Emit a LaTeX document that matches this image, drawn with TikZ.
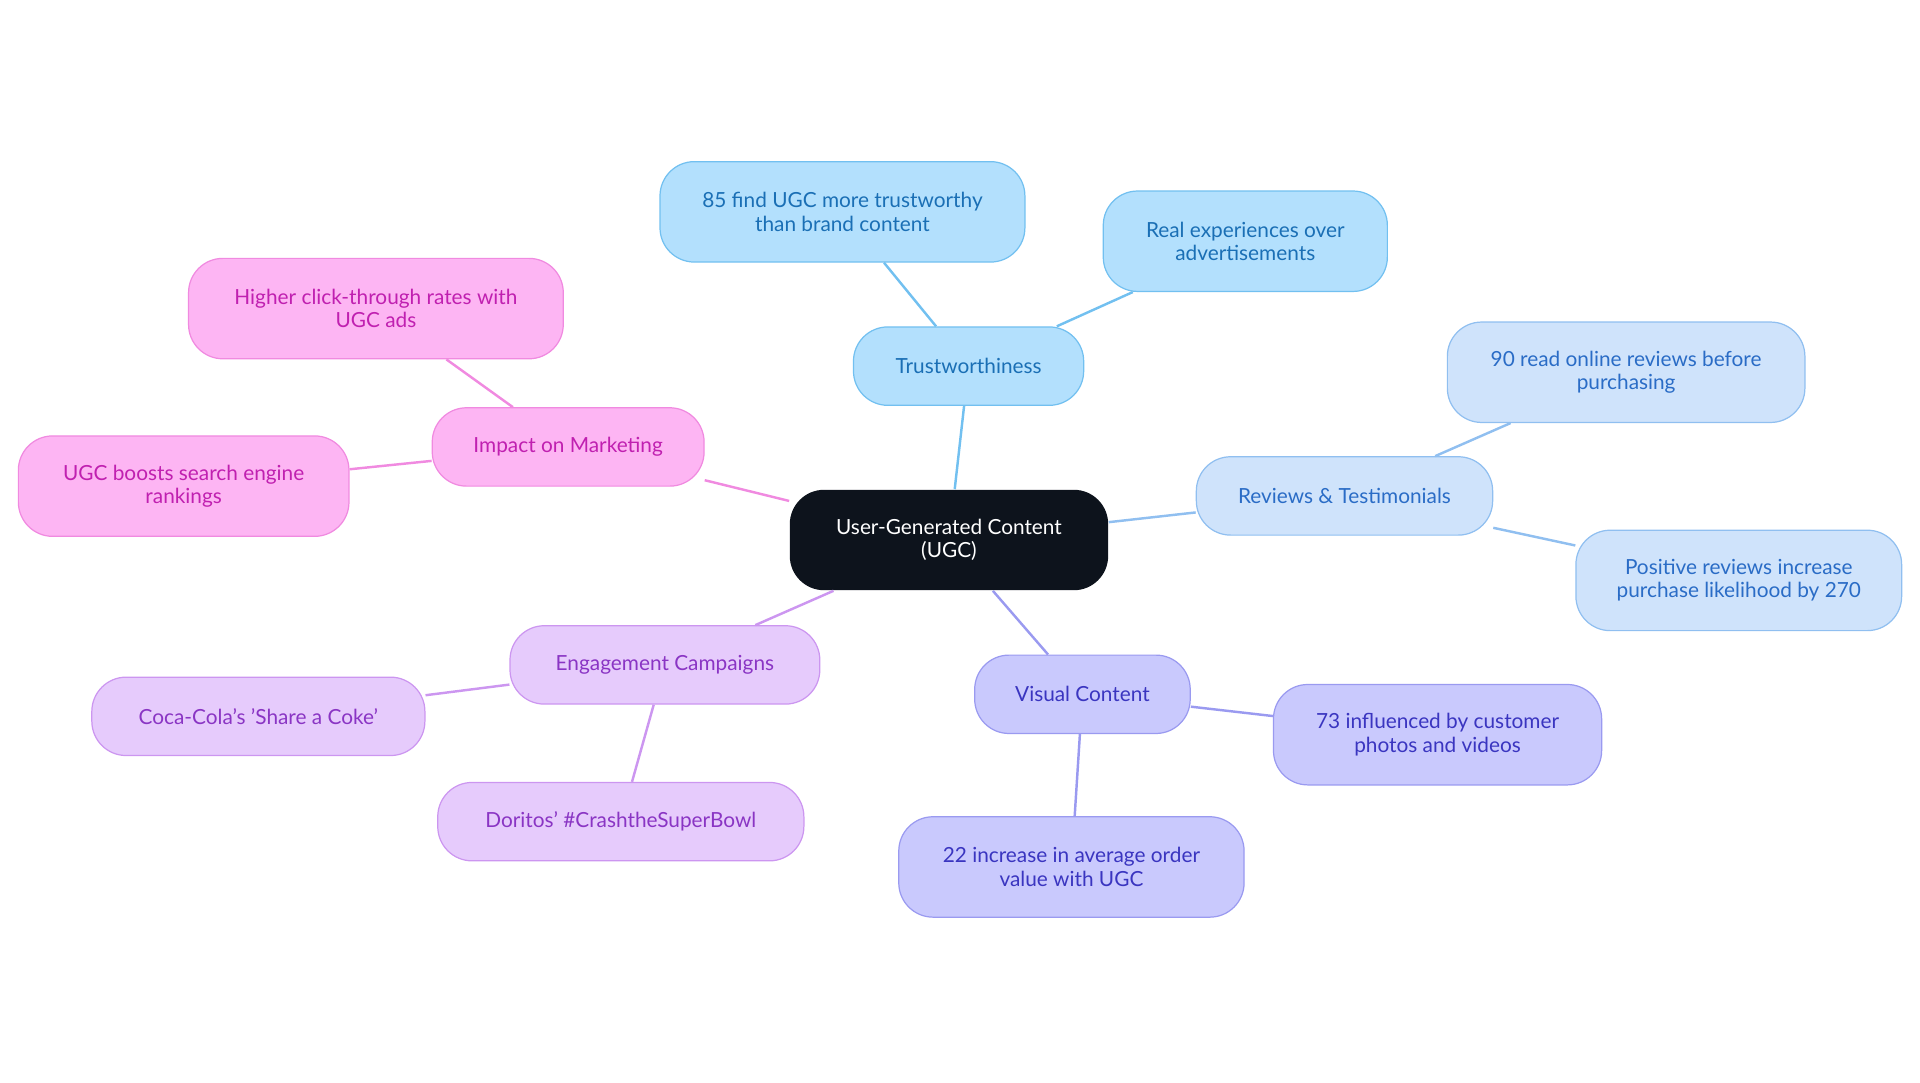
\documentclass[tikz,border=0pt]{standalone}
\usepackage{fontspec}
\setmainfont{Lato}
\definecolor{cb}{HTML}{0D131C}
\definecolor{tf}{HTML}{B3E0FD}\definecolor{td}{HTML}{72C0F0}\definecolor{tt}{HTML}{1A6FB5}
\definecolor{rf}{HTML}{CFE3FB}\definecolor{rd}{HTML}{90BFF0}\definecolor{rt}{HTML}{2A6CC6}
\definecolor{vf}{HTML}{C9C9FD}\definecolor{vd}{HTML}{9A9AF0}\definecolor{vt}{HTML}{3A35C0}
\definecolor{ef}{HTML}{E6CBFC}\definecolor{ed}{HTML}{CC96F0}\definecolor{et}{HTML}{8A35C4}
\definecolor{mf}{HTML}{FDB5F3}\definecolor{md}{HTML}{F08AE0}\definecolor{mt}{HTML}{C020B0}
\tikzset{
 box/.style={rounded corners=28pt,align=center,font=\fontsize{17}{19}\selectfont,inner sep=0pt,line width=1pt},
 tb/.style={box,fill=tf,draw=td,text=tt},
 rb/.style={box,fill=rf,draw=rd,text=rt},
 vb/.style={box,fill=vf,draw=vd,text=vt},
 eb/.style={box,fill=ef,draw=ed,text=et},
 mb/.style={box,fill=mf,draw=md,text=mt},
 ln/.style={line width=2pt}
}
\begin{document}
\begin{tikzpicture}[x=1pt,y=-1pt]
\useasboundingbox (0,0) rectangle (1568,884);
\node[box,fill=cb,text=white,minimum width=260pt,minimum height=82pt] (c) at (775,441) {User-Generated Content\\(UGC)};
\node[tb,minimum width=188pt,minimum height=64pt] (t) at (791,299) {Trustworthiness};
\node[tb,minimum width=298pt,minimum height=82pt] (t1) at (688,173) {85 find UGC more trustworthy\\than brand content};
\node[tb,minimum width=232pt,minimum height=82pt] (t2) at (1017,197) {Real experiences over\\advertisements};
\node[rb,minimum width=242pt,minimum height=64pt] (r) at (1098,405) {Reviews \& Testimonials};
\node[rb,minimum width=292pt,minimum height=82pt] (r1) at (1328,304) {90 read online reviews before\\purchasing};
\node[rb,minimum width=266pt,minimum height=82pt] (r2) at (1420,474) {Positive reviews increase\\purchase likelihood by 270};
\node[vb,minimum width=176pt,minimum height=64pt] (v) at (884,567) {Visual Content};
\node[vb,minimum width=268pt,minimum height=82pt] (v1) at (1174,600) {73 influenced by customer\\photos and videos};
\node[vb,minimum width=282pt,minimum height=82pt] (v2) at (875,708) {22 increase in average order\\value with UGC};
\node[eb,minimum width=253pt,minimum height=64pt] (e) at (543,543) {Engagement Campaigns};
\node[eb,minimum width=272pt,minimum height=64pt] (e1) at (211,585) {Coca-Cola's 'Share a Coke'};
\node[eb,minimum width=299pt,minimum height=64pt] (e2) at (507,671) {Doritos' \#CrashtheSuperBowl};
\node[mb,minimum width=222pt,minimum height=64pt] (m) at (464,365) {Impact on Marketing};
\node[mb,minimum width=306pt,minimum height=82pt] (m1) at (307,252) {Higher click-through rates with\\UGC ads};
\node[mb,minimum width=270pt,minimum height=82pt] (m2) at (150,397) {UGC boosts search engine\\rankings};
\draw[ln,td] (c) -- (t); \draw[ln,td] (t) -- (t1); \draw[ln,td] (t) -- (t2);
\draw[ln,rd] (c) -- (r); \draw[ln,rd] (r) -- (r1); \draw[ln,rd] (r) -- (r2);
\draw[ln,vd] (c) -- (v); \draw[ln,vd] (v) -- (v1); \draw[ln,vd] (v) -- (v2);
\draw[ln,ed] (c) -- (e); \draw[ln,ed] (e) -- (e1); \draw[ln,ed] (e) -- (e2);
\draw[ln,md] (c) -- (m); \draw[ln,md] (m) -- (m1); \draw[ln,md] (m) -- (m2);
\end{tikzpicture}
\end{document}
